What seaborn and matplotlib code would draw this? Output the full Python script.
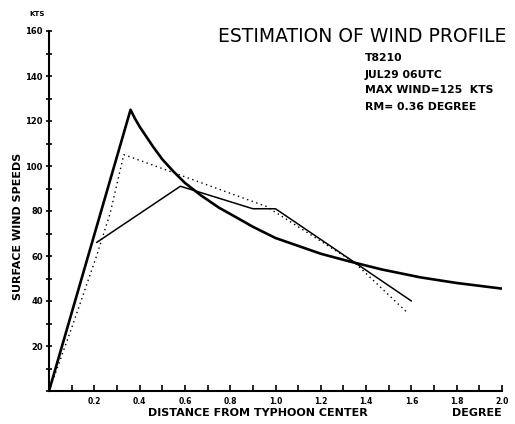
import matplotlib
matplotlib.use("Agg")
import matplotlib.pyplot as plt
import seaborn as sns
import pandas as pd
from matplotlib.ticker import MultipleLocator, FixedLocator, FixedFormatter

# --- data ---
# thick solid: estimated (model) profile
model_dist = [0.0, 0.36, 0.38, 0.40, 0.43, 0.46, 0.50, 0.55, 0.60, 0.67,
              0.75, 0.83, 0.90, 1.00, 1.10, 1.20, 1.33, 1.47, 1.64, 1.80, 2.00]
model_wind = [0, 125, 121, 117.5, 113, 108.5, 103, 97.5, 92.5, 87,
              81.5, 77, 73, 68, 64.5, 61, 57.5, 54, 50.5, 48, 45.5]

# thin solid: observed profile
obs_dist = [0.21, 0.58, 0.90, 1.00, 1.60]
obs_wind = [66, 91, 81, 81, 40]

# dotted profile
dot_dist = [0.0, 0.10, 0.21, 0.27, 0.33, 0.36, 0.96, 1.10, 1.35, 1.58]
dot_wind = [0, 28, 60, 79, 105, 104, 82, 73, 57, 35]

x_ticks = [0.2, 0.4, 0.6, 0.8, 1.0, 1.2, 1.4, 1.6, 1.8, 2.0]
x_tick_labels = ["0.2", "0.4", "0.6", "0.8", "1.0", "1.2", "1.4", "1.6", "1.8", "2.0"]
y_ticks = [20, 40, 60, 80, 100, 120, 140, 160]
y_tick_labels = ["20", "40", "60", "80", "100", "120", "140", "160"]

title = "ESTIMATION OF WIND PROFILE"
info_lines = ["T8210", "JUL29 06UTC", "MAX WIND=125  KTS", "RM= 0.36 DEGREE"]

sns.set_style("ticks")
plt.rcParams.update({
    "font.family": ["DejaVu Sans"],
    "text.color": "black",
    "axes.labelcolor": "black",
    "xtick.color": "black",
    "ytick.color": "black",
    "axes.edgecolor": "black",
})

W, H = 515, 424
fig = plt.figure(figsize=(W / 100, H / 100), dpi=100)
ax = fig.add_axes([49 / W, 1 - 391 / H, 453 / W, 360 / H])


def px(x, y):
    # pixel position (from top-left) -> figure fraction
    return x / W, 1 - y / H


model = pd.DataFrame({"dist": model_dist, "wind": model_wind})
obs = pd.DataFrame({"dist": obs_dist, "wind": obs_wind})
dots = pd.DataFrame({"dist": dot_dist, "wind": dot_wind})

sns.lineplot(data=model, x="dist", y="wind", sort=False, estimator=None,
             color="black", linewidth=1.9, ax=ax)
sns.lineplot(data=obs, x="dist", y="wind", sort=False, estimator=None,
             color="black", linewidth=1.1, ax=ax)
sns.lineplot(data=dots, x="dist", y="wind", sort=False, estimator=None,
             color="black", linewidth=1.0, linestyle=(0, (1, 2.5)), ax=ax)

ax.set_xlim(0, 2.0)
ax.set_ylim(0, 160)
ax.set_xlabel("")
ax.set_ylabel("")
sns.despine(ax=ax)
for side in ["left", "bottom"]:
    ax.spines[side].set_linewidth(1.5)

ax.xaxis.set_major_locator(FixedLocator(x_ticks))
ax.xaxis.set_major_formatter(FixedFormatter(x_tick_labels))
ax.xaxis.set_minor_locator(MultipleLocator(0.1))
ax.yaxis.set_major_locator(FixedLocator(y_ticks))
ax.yaxis.set_major_formatter(FixedFormatter(y_tick_labels))
ax.yaxis.set_minor_locator(MultipleLocator(10))

ax.tick_params(axis="x", which="both", direction="in", length=4, width=1.2,
               pad=4, labelsize=5.5)
ax.tick_params(axis="y", which="both", direction="inout", length=5, width=1.2,
               pad=2, labelsize=6)
for lab in ax.get_xticklabels() + ax.get_yticklabels():
    lab.set_fontweight("bold")

# texts
fig.text(*px(218, 37), title, fontsize=13.5, va="center", ha="left")
for line, y in zip(info_lines, [58, 75, 90, 107]):
    fig.text(*px(365, y), line, fontsize=7.8, fontweight="bold",
             va="center", ha="left")
fig.text(*px(37, 14), "KTS", fontsize=5, fontweight="bold", ha="center", va="center")
fig.text(*px(148, 413), "DISTANCE FROM TYPHOON CENTER", fontsize=8,
         fontweight="bold", ha="left", va="center")
fig.text(*px(502, 413), "DEGREE", fontsize=8, fontweight="bold",
         ha="right", va="center")
fig.text(*px(18, 226), "SURFACE WIND SPEEDS", fontsize=8, fontweight="bold",
         rotation=90, ha="center", va="center")

fig.savefig("out.png", dpi=100)
